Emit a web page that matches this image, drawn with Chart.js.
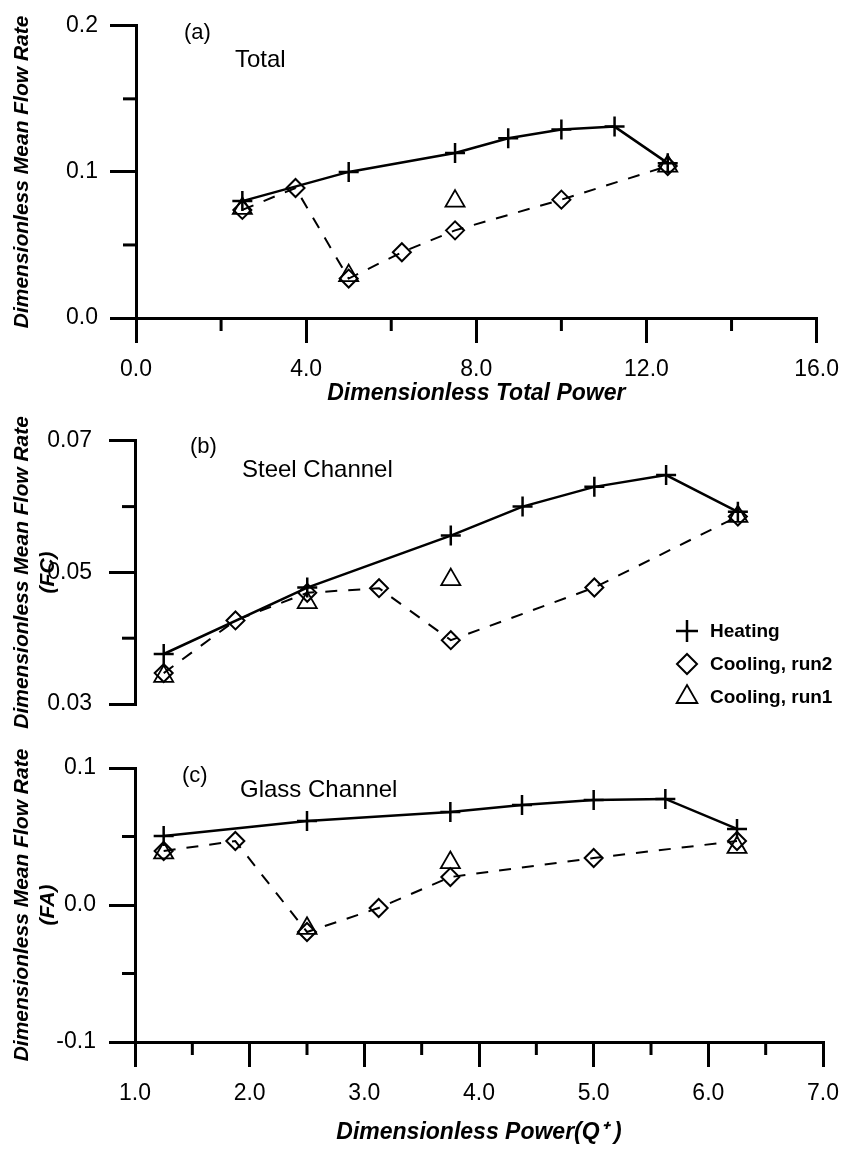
<!DOCTYPE html>
<html>
<head>
<meta charset="utf-8">
<script src="https://cdn.jsdelivr.net/npm/chart.js@4"></script>
<style>
  body { margin: 0; background: #fff; }
  canvas { position: absolute; left: 0; }
</style>
</head>
<body>
<canvas id="chartA" width="852" height="410" style="top:0"></canvas>
<canvas id="chartB" width="852" height="330" style="top:410px"></canvas>
<canvas id="chartC" width="852" height="409" style="top:740px"></canvas>
<script>
// x positions (total power for panel a, power Q+ for panels b and c)
const heatXTotal = [2.5, 5.0, 7.5, 8.75, 10.0, 11.25, 12.5];
const run2XTotal = [2.5, 3.75, 5.0, 6.25, 7.5, 10.0, 12.5];
const run1XTotal = [2.5, 5.0, 7.5, 12.5];
const heatX = [1.25, 2.5, 3.75, 4.375, 5.0, 5.625, 6.25];
const run2X = [1.25, 1.875, 2.5, 3.125, 3.75, 5.0, 6.25];
const run1X = [1.25, 2.5, 3.75, 6.25];

// (a) Total
const totalHeating = [0.080, 0.100, 0.113, 0.123, 0.129, 0.131, 0.106];
const totalRun2 = [0.074, 0.089, 0.027, 0.045, 0.060, 0.081, 0.104];
const totalRun1 = [0.075, 0.029, 0.080, 0.104];
// (b) Steel channel
const steelHeating = [0.0376, 0.0477, 0.0556, 0.0600, 0.0630, 0.0648, 0.0592];
const steelRun2 = [0.0347, 0.0427, 0.0469, 0.0476, 0.0397, 0.0477, 0.0585];
const steelRun1 = [0.0342, 0.0454, 0.0489, 0.0585];
// (c) Glass channel
const glassHeating = [0.0504, 0.0613, 0.0679, 0.0730, 0.0766, 0.0774, 0.0555];
const glassRun2 = [0.0394, 0.0467, -0.0197, -0.0022, 0.0204, 0.0343, 0.0467];
const glassRun1 = [0.038, -0.017, 0.031, 0.042];

// minor tick positions
const minorXTotal = [2, 6, 10, 14];
const minorYTotal = [0.05, 0.15];
const minorYSteel = [0.04, 0.06];
const minorX = [1.5, 2.5, 3.5, 4.5, 5.5, 6.5];
const minorYGlass = [-0.05, 0.05];

const seriesNames = ['Heating', 'Cooling, run2', 'Cooling, run1'];

const FONT = "'Liberation Sans', Arial, sans-serif";

const pts = (xs, ys) => xs.map((x, i) => ({ x: x, y: ys[i] }));

function makeDatasets(hx, hy, r2x, r2y, r1x, r1y) {
  return [
    {
      label: seriesNames[0], data: pts(hx, hy), showLine: true,
      borderColor: '#000', borderWidth: 2.5,
      pointStyle: 'cross', pointRadius: 10, pointBorderWidth: 2.5,
      pointBorderColor: '#000'
    },
    {
      label: seriesNames[1], data: pts(r2x, r2y), showLine: true,
      borderColor: '#000', borderWidth: 2, borderDash: [12, 11],
      pointStyle: 'rectRot', pointRadius: 9, pointBorderWidth: 2,
      pointBorderColor: '#000', pointBackgroundColor: 'rgba(0,0,0,0)'
    },
    {
      label: seriesNames[2], data: pts(r1x, r1y), showLine: false,
      pointStyle: 'triangle', pointRadius: 11, pointBorderWidth: 1.8,
      pointBorderColor: '#000', pointBackgroundColor: 'rgba(0,0,0,0)'
    }
  ];
}

// short minor ticks drawn from the library's scales
const minorTicks = {
  id: 'minorTicks',
  afterDraw(chart, args, opts) {
    const ctx = chart.ctx;
    const area = chart.chartArea;
    ctx.save();
    ctx.strokeStyle = '#000';
    ctx.lineWidth = 3;
    (opts.x || []).forEach(v => {
      const px = chart.scales.x.getPixelForValue(v);
      ctx.beginPath(); ctx.moveTo(px, area.bottom); ctx.lineTo(px, area.bottom + opts.len); ctx.stroke();
    });
    (opts.y || []).forEach(v => {
      const py = chart.scales.y.getPixelForValue(v);
      ctx.beginPath(); ctx.moveTo(area.left, py); ctx.lineTo(area.left - opts.len, py); ctx.stroke();
    });
    ctx.restore();
  }
};

// panel labels like "(a)" and "Total"
const notes = {
  id: 'notes',
  afterDraw(chart, args, opts) {
    const ctx = chart.ctx;
    ctx.save();
    ctx.fillStyle = '#000';
    ctx.textBaseline = 'middle';
    ctx.textAlign = 'left';
    (opts.items || []).forEach(it => {
      ctx.font = it.size + 'px ' + FONT;
      ctx.fillText(it.text, it.x, it.y);
    });
    ctx.restore();
  }
};

// legend of panel b
const markerLegend = {
  id: 'markerLegend',
  afterDraw(chart) {
    const ctx = chart.ctx;
    const rows = [221, 254, 287];
    ctx.save();
    chart.data.datasets.forEach((ds, i) => {
      ctx.strokeStyle = '#000';
      ctx.fillStyle = 'rgba(0,0,0,0)';
      ctx.lineWidth = ds.pointBorderWidth;
      Chart.helpers.drawPoint(ctx, { pointStyle: ds.pointStyle, radius: ds.pointRadius + 1, borderWidth: ds.pointBorderWidth }, 687, rows[i]);
      ctx.fillStyle = '#000';
      ctx.font = 'bold 19px ' + FONT;
      ctx.textBaseline = 'middle';
      ctx.fillText(ds.label, 710, rows[i] + 1);
    });
    ctx.restore();
  }
};

function axisBase(extra) {
  return Object.assign({
    type: 'linear',
    grid: { drawOnChartArea: false, drawTicks: true, tickLength: 25, lineWidth: 3, color: '#000', tickColor: '#000' },
    border: { display: true, width: 3, color: '#000' }
  }, extra);
}

function makeChart(id, cfg) {
  return new Chart(document.getElementById(id), {
    type: 'scatter',
    data: { datasets: cfg.datasets },
    options: {
      responsive: false,
      animation: false,
      layout: { padding: cfg.padding },
      plugins: {
        legend: { display: false },
        tooltip: { enabled: false },
        minorTicks: { x: cfg.minorX, y: cfg.minorY, len: 13 },
        notes: { items: cfg.notes }
      },
      scales: {
        x: axisBase({
          display: cfg.xDisplay,
          min: cfg.xMin, max: cfg.xMax,
          ticks: { stepSize: cfg.xStep, padding: 13, color: '#000', font: { family: FONT, size: 23 },
                   callback: v => v.toFixed(1) },
          title: { display: !!cfg.xTitle, text: cfg.xTitle, color: '#000', padding: { bottom: 3 },
                   font: { family: FONT, size: 23, weight: 'bold', style: 'italic' } },
          afterFit: s => { s.height = cfg.xHeight; }
        }),
        y: axisBase({
          min: cfg.yMin, max: cfg.yMax,
          grid: { drawOnChartArea: false, tickLength: 26, lineWidth: 3, color: '#000', tickColor: '#000' },
          ticks: { stepSize: cfg.yStep, padding: cfg.yPad, color: '#000', font: { family: FONT, size: 23 },
                   callback: v => v.toFixed(cfg.yDigits) },
          title: { display: true, text: cfg.yTitle, color: '#000', padding: { top: 10 },
                   font: { family: FONT, size: 21, weight: 'bold', style: 'italic', lineHeight: 1.2 } },
          afterFit: s => { s.width = cfg.yWidth; }
        })
      }
    },
    plugins: cfg.plugins
  });
}

makeChart('chartA', {
  datasets: makeDatasets(heatXTotal, totalHeating, run2XTotal, totalRun2, run1XTotal, totalRun1),
  padding: { top: 18, right: 26, left: 0, bottom: 0 },
  xDisplay: true, xMin: 0, xMax: 16, xStep: 4, xHeight: 92,
  xTitle: 'Dimensionless Total Power',
  yMin: 0, yMax: 0.2, yStep: 0.1, yDigits: 1, yPad: 12, yWidth: 136,
  yTitle: 'Dimensionless Mean Flow Rate',
  minorX: minorXTotal, minorY: minorYTotal,
  notes: [{ text: '(a)', x: 184, y: 33, size: 22 }, { text: 'Total', x: 235, y: 60, size: 24 }],
  plugins: [minorTicks, notes]
});

makeChart('chartB', {
  datasets: makeDatasets(heatX, steelHeating, run2X, steelRun2, run1X, steelRun1),
  padding: { top: 19, right: 28, left: 0, bottom: 36 },
  xDisplay: false, xMin: 1, xMax: 7, xStep: 1, xHeight: 0,
  xTitle: '',
  yMin: 0.03, yMax: 0.07, yStep: 0.02, yDigits: 2, yPad: 17, yWidth: 135,
  yTitle: ['Dimensionless Mean Flow Rate', '(FC)'],
  minorX: [], minorY: minorYSteel,
  notes: [{ text: '(b)', x: 190, y: 37, size: 22 }, { text: 'Steel Channel', x: 242, y: 60, size: 24 }],
  plugins: [minorTicks, notes, markerLegend]
});

makeChart('chartC', {
  datasets: makeDatasets(heatX, glassHeating, run2X, glassRun2, run1X, glassRun1),
  padding: { top: 28, right: 28, left: 0, bottom: 0 },
  xDisplay: true, xMin: 1, xMax: 7, xStep: 1, xHeight: 107,
  xTitle: 'Dimensionless Power(Q\u207A )',
  yMin: -0.1, yMax: 0.1, yStep: 0.1, yDigits: 1, yPad: 13, yWidth: 135,
  yTitle: ['Dimensionless Mean Flow Rate', '(FA)'],
  minorX: minorX, minorY: minorYGlass,
  notes: [{ text: '(c)', x: 182, y: 36, size: 22 }, { text: 'Glass Channel', x: 240, y: 50, size: 24 }],
  plugins: [minorTicks, notes]
});
</script>
</body>
</html>
